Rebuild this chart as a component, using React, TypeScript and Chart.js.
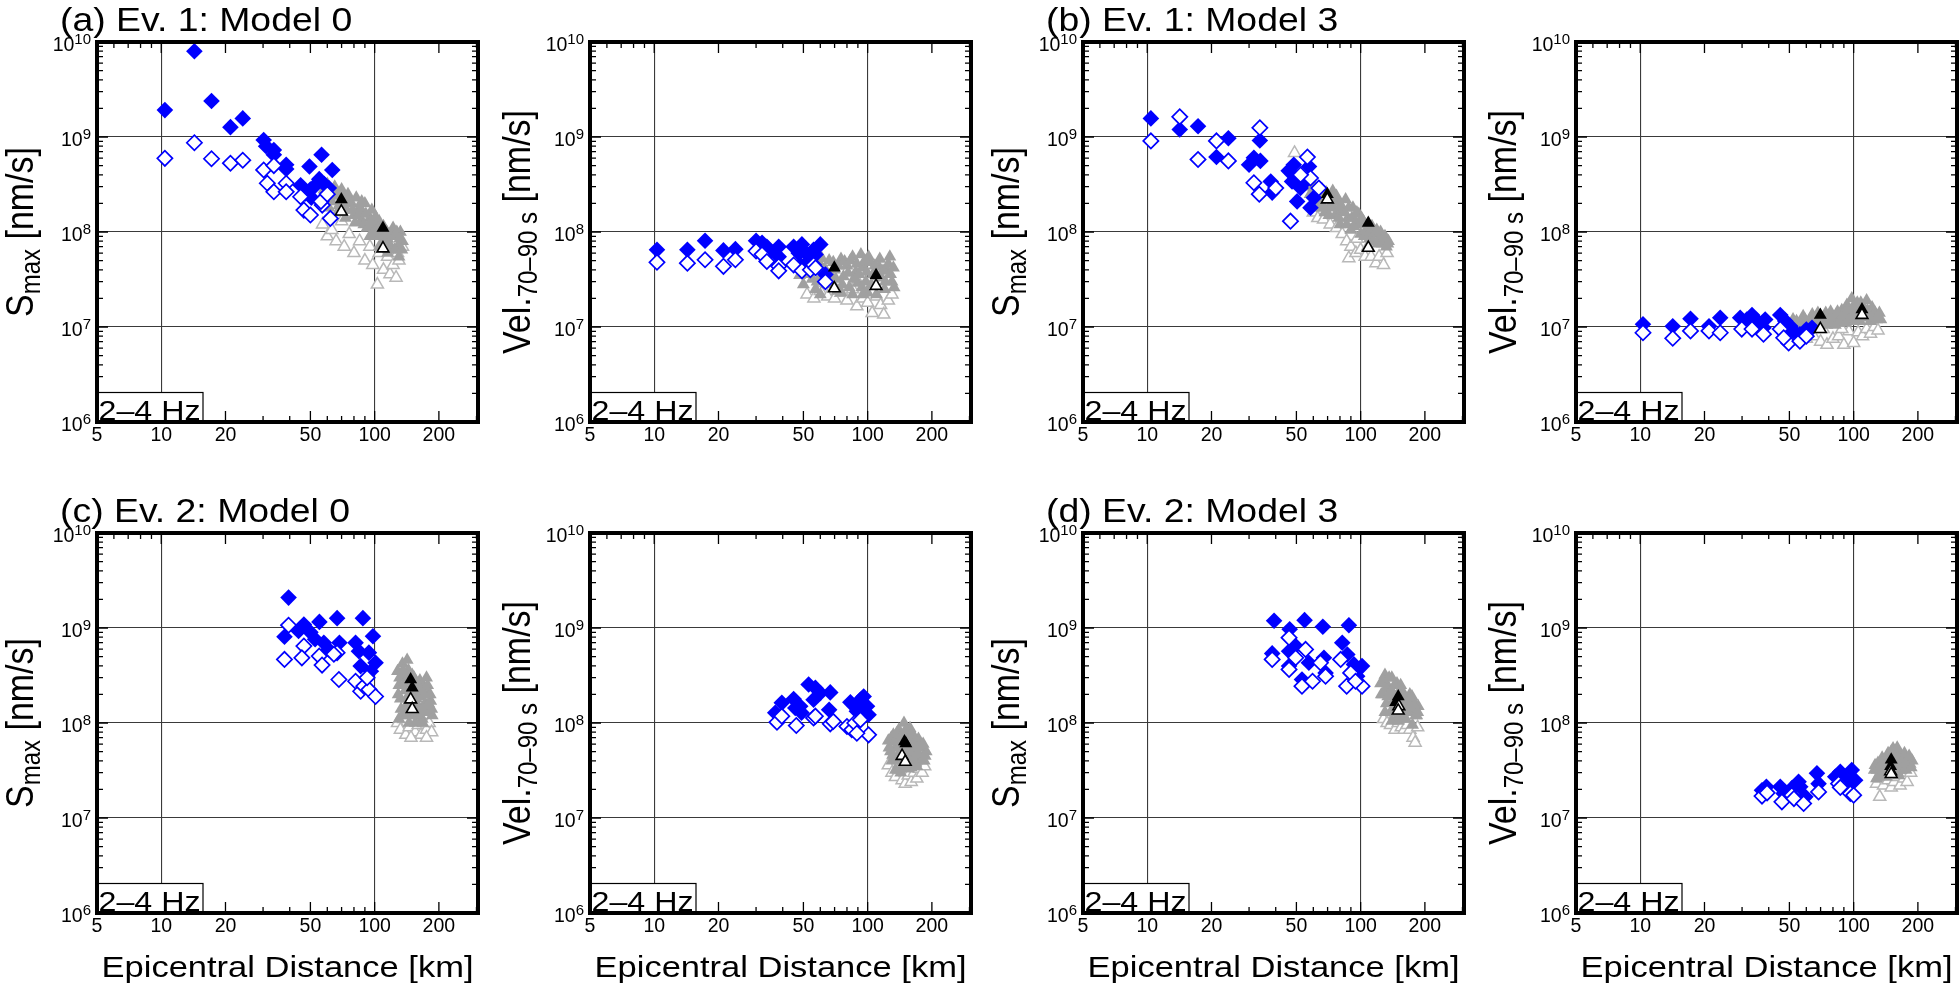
import React, { useEffect, useRef } from "react";
import { Chart, registerables } from "chart.js";

Chart.register(...registerables);

type P = [number, number];

// ---------- axes / labels ----------
const X_MIN = 5;
const X_MAX = 305;
const Y_MIN = 1e6;
const Y_MAX = 1e10;
const X_TICK_LABELS = [5, 10, 20, 50, 100, 200];
const X_MINOR_TICKS = [6, 7, 8, 9, 30, 40, 60, 70, 80, 90, 300];
const X_GRID = [10, 100];
const Y_EXPONENTS = [6, 7, 8, 9, 10];
const Y_GRID_EXPONENTS = [7, 8, 9];
const PANEL_TITLES = ["(a) Ev. 1: Model 0", "(b) Ev. 1: Model 3", "(c) Ev. 2: Model 0", "(d) Ev. 2: Model 3"];
const BAND_LABEL = "2–4 Hz";
const X_TITLE = "Epicentral Distance [km]";
const SMAX_TITLE = ["S", "max", " [nm/s]"];
const VEL_TITLE = ["Vel.", "70–90 s", " [nm/s]"];

// ---------- Ev.1 Model 0 : Smax ----------
const E1M0_SMAX_BLUE_FILLED: P[] = [[14.3,8.0e9],[10.4,1.92e9],[17.2,2.39e9],[21.1,1.27e9],[24.1,1.57e9],[30.2,9.3e8],[31,8.0e8],[33.7,7.3e8],[33.7,6.5e8],[38.5,5.1e8],[38.5,4.6e8],[49.5,4.9e8],[56.4,6.5e8],[63.3,4.5e8],[45,3.1e8],[47.4,2.55e8],[50,2.8e8],[52,3.0e8],[55,3.6e8],[58,3.2e8],[61,2.9e8],[50.5,2.3e8]];
const E1M0_SMAX_BLUE_OPEN: P[] = [[10.4,5.96e8],[14.3,8.7e8],[17.2,5.9e8],[21.1,5.3e8],[24.1,5.7e8],[30.2,4.5e8],[31.4,3.26e8],[33.7,2.65e8],[33.7,5.0e8],[38.5,3.26e8],[38.5,2.65e8],[45,2.35e8],[46.6,1.7e8],[50,1.51e8],[56.8,1.92e8],[56,2.1e8],[60,2.5e8],[62,1.39e8]];
const E1M0_SMAX_GRAY_FILLED: P[] = [[55,3.3e8],[58,2.8e8],[60,3.2e8],[62,2.6e8],[63,2.1e8],[65,3.0e8],[66,2.4e8],[68,1.9e8],[70,2.8e8],[72,2.2e8],[74,1.7e8],[75,2.5e8],[78,2.0e8],[80,1.5e8],[82,2.3e8],[85,1.8e8],[86,1.3e8],[88,1.6e8],[90,2.0e8],[92,1.1e8],[95,1.4e8],[97,1.7e8],[100,1.2e8],[102,9e7],[105,1.3e8],[108,7.5e7],[112,1.05e8],[115,8.5e7],[118,6.5e7],[122,1.1e8],[125,9e7],[128,7e7],[132,1.0e8],[135,8e7],[130,5.5e7],[110,1.15e8],[95,9e7],
  [57,2.3e8],[61,1.8e8],[64,2.7e8],[67,1.6e8],[69,2.5e8],[71,1.8e8],[73,1.4e8],[76,2.1e8],[79,1.7e8],[81,1.25e8],[84,1.5e8],[87,2.1e8],[89,1.2e8],[91,1.55e8],[94,1.15e8],[96,1.3e8],[99,1.0e8],[101,1.45e8],[104,1.1e8],[107,9.5e7],[111,8e7],[114,1.0e8],[117,7.5e7],[120,9.5e7],[124,6.5e7],[127,1.0e8],[131,8.5e7],[134,6.5e7],[105,7e7],[115,6e7]];
const E1M0_SMAX_GRAY_OPEN: P[] = [[57,1.2e8],[60,9e7],[63,1.05e8],[66,8e7],[70,1.3e8],[72,7e7],[76,9.5e7],[80,6e7],[85,8e7],[90,5e7],[95,7e7],[98,4.5e7],[103,2.8e7],[105,6e7],[110,4e7],[115,5.5e7],[118,3.6e7],[122,4.5e7],[126,3.3e7],[130,5e7],[135,7e7],[128,6e7]];
const E1M0_SMAX_BLACK_FILLED: P[] = [[69.8,2.2e8],[109.4,1.1e8]];
const E1M0_SMAX_BLACK_OPEN: P[] = [[69.8,1.64e8],[109.4,6.7e7]];

// ---------- Ev.1 Model 0 : Vel ----------
const E1M0_VEL_BLUE_FILLED: P[] = [[10.3,6.5e7],[14.3,6.5e7],[17.3,8.1e7],[21.1,6.4e7],[24,6.6e7],[30,8.1e7],[32,7.7e7],[33.7,7.0e7],[35,6.3e7],[38.3,7.0e7],[38.3,5.5e7],[45,7.0e7],[47.5,6.0e7],[49.2,7.4e7],[52,5.8e7],[53.9,5.1e7],[55.8,6.5e7],[60,7.4e7],[57,5.8e7],[63.4,3.56e7],[48.5,4.5e7]];
const E1M0_VEL_BLUE_OPEN: P[] = [[10.3,4.8e7],[14.3,4.7e7],[17.3,5.1e7],[21.1,4.35e7],[24,5.1e7],[30,6.3e7],[32,5.8e7],[33.7,4.9e7],[38.3,4.35e7],[38.3,3.9e7],[45,4.5e7],[49.2,3.9e7],[53.9,4.0e7],[55.8,4.5e7],[63.4,3.0e7],[57,4.2e7]];
const E1M0_VEL_GRAY_FILLED: P[] = [[48,3.5e7],[50,2.8e7],[52,4.2e7],[55,3.2e7],[57,2.5e7],[60,4.5e7],[62,3.5e7],[64,2.8e7],[66,5.0e7],[68,3.0e7],[70,4.0e7],[72,2.4e7],[75,5.2e7],[77,3.4e7],[80,4.4e7],[82,2.6e7],[85,5.5e7],[88,3.8e7],[90,2.9e7],[93,5.8e7],[95,4.2e7],[98,3.0e7],[100,2.3e7],[103,4.8e7],[106,3.6e7],[110,2.7e7],[113,4.3e7],[116,3.3e7],[120,2.5e7],[123,3.9e7],[127,5.5e7],[130,3.0e7],[133,2.6e7],[60,2.2e7],[85,2.2e7],
  [50,4.5e7],[53,3.6e7],[56,4.8e7],[58,3.0e7],[61,5.3e7],[63,4.1e7],[67,3.6e7],[69,4.8e7],[71,3.2e7],[73,4.4e7],[76,2.8e7],[78,4.9e7],[81,3.7e7],[83,5.0e7],[86,3.2e7],[89,4.6e7],[91,3.6e7],[94,2.6e7],[97,5.0e7],[99,3.8e7],[101,5.5e7],[104,2.8e7],[108,4.4e7],[111,3.4e7],[114,5.2e7],[118,3.9e7],[121,3.0e7],[125,4.6e7],[128,3.6e7],[132,4.2e7],[110,2.2e7],[75,2.3e7],[95,2.2e7]];
const E1M0_VEL_GRAY_OPEN: P[] = [[52,2.2e7],[56,2.0e7],[60,2.4e7],[65,2.1e7],[70,2.0e7],[75,2.3e7],[80,1.9e7],[85,2.5e7],[89,1.65e7],[95,2.0e7],[100,1.8e7],[105,1.4e7],[110,2.1e7],[115,1.7e7],[119,1.35e7],[125,1.9e7],[130,2.2e7],[62,2.9e7],[90,3.0e7]];
const E1M0_VEL_BLACK_FILLED: P[] = [[69.8,4.2e7],[109.5,3.5e7]];
const E1M0_VEL_BLACK_OPEN: P[] = [[69.8,2.55e7],[109.5,2.7e7]];

// ---------- Ev.1 Model 3 : Smax ----------
const E1M3_SMAX_BLUE_FILLED: P[] = [[10.4,1.57e9],[14.2,1.2e9],[17.3,1.3e9],[21.1,6.15e8],[24,9.7e8],[33.7,9.2e8],[30,5.1e8],[31.6,6.05e8],[33.9,5.6e8],[37.9,3.4e8],[38.5,2.6e8],[46,4.4e8],[48.6,5.1e8],[47.7,3.4e8],[50.4,2.1e8],[52.3,2.9e8],[57.3,4.9e8],[60.4,2.3e8],[58.2,1.8e8],[55,3.4e8]];
const E1M3_SMAX_BLUE_OPEN: P[] = [[10.4,9.1e8],[14.2,1.63e9],[17.3,5.8e8],[21.1,9.1e8],[24,5.6e8],[33.7,1.25e9],[31.6,3.3e8],[33.5,2.5e8],[46.9,1.3e8],[56.3,6.15e8],[58.2,3.7e8],[52.3,4.0e8],[63.7,2.9e8],[40,2.9e8]];
const E1M3_SMAX_GRAY_FILLED: P[] = [[52,3.8e8],[55,3.3e8],[57,3.0e8],[60,2.6e8],[62,2.2e8],[64,1.8e8],[66,2.8e8],[68,1.6e8],[70,2.3e8],[72,1.9e8],[74,2.7e8],[76,1.5e8],[78,2.1e8],[80,1.2e8],[82,1.7e8],[85,2.2e8],[87,1.4e8],[90,1.05e8],[92,1.8e8],[95,1.25e8],[98,1.55e8],[100,9.5e7],[103,1.3e8],[106,1.05e8],[110,8.5e7],[113,1.15e8],[117,9.5e7],[120,7.5e7],[124,1.0e8],[128,8.5e7],[132,7e7],[135,8e7],
  [58,2.5e8],[61,3.0e8],[63,2.5e8],[65,2.1e8],[67,1.8e8],[69,2.6e8],[71,1.5e8],[73,2.2e8],[75,1.8e8],[77,2.4e8],[79,1.4e8],[81,1.9e8],[84,1.6e8],[86,1.2e8],[88,1.8e8],[91,1.4e8],[93,1.15e8],[96,1.6e8],[99,1.2e8],[101,1.4e8],[104,9e7],[108,1.2e8],[111,1.0e8],[115,8e7],[119,1.05e8],[122,8.5e7],[126,7.5e7],[130,9e7],[134,7.5e7]];
const E1M3_SMAX_GRAY_OPEN: P[] = [[49,6.8e8],[60,1.6e8],[63,1.4e8],[67,1.35e8],[72,1.2e8],[77,1.1e8],[82,9.5e7],[86,8e7],[88,5.3e7],[90,7e7],[95,6e7],[100,6.5e7],[105,5.5e7],[112,5.5e7],[118,4.7e7],[122,5.5e7],[128,4.5e7],[133,6e7],[108,7e7],[96,8.5e7]];
const E1M3_SMAX_BLACK_FILLED: P[] = [[69.8,2.5e8],[108.6,1.24e8]];
const E1M3_SMAX_BLACK_OPEN: P[] = [[69.8,2.2e8],[108.6,6.8e7]];

// ---------- Ev.1 Model 3 : Vel ----------
const E1M3_VEL_BLUE_FILLED: P[] = [[10.3,1.07e7],[14.2,1.02e7],[17.2,1.22e7],[21,1.02e7],[23.7,1.25e7],[29.4,1.25e7],[31.6,1.2e7],[33.4,1.34e7],[35.3,1.16e7],[38.5,1.2e7],[37.8,0.98e7],[45.3,1.34e7],[47.8,1.16e7],[50.5,1.02e7],[52.3,0.91e7],[56,0.84e7],[60,0.94e7],[63.8,0.98e7],[49.6,0.91e7]];
const E1M3_VEL_BLUE_OPEN: P[] = [[10.3,0.87e7],[14.2,0.76e7],[17.2,0.91e7],[21,0.91e7],[23.7,0.87e7],[29.9,0.95e7],[33.4,0.95e7],[37.8,0.84e7],[45.3,0.95e7],[49.6,0.68e7],[56,0.71e7],[60,0.8e7],[47,0.77e7]];
const E1M3_VEL_GRAY_FILLED: P[] = [[52,1.2e7],[55,1.05e7],[58,1.3e7],[60,1.1e7],[63,1.25e7],[65,1.0e7],[68,1.4e7],[70,1.15e7],[73,1.3e7],[75,1.05e7],[78,1.45e7],[80,1.2e7],[83,1.35e7],[85,1.1e7],[88,1.5e7],[90,1.25e7],[93,1.7e7],[95,1.4e7],[98,2.0e7],[100,1.15e7],[103,1.6e7],[106,1.3e7],[108,1.8e7],[112,1.45e7],[115,1.9e7],[118,1.25e7],[122,1.6e7],[126,1.4e7],[130,1.3e7],[134,1.2e7],
  [54,1.15e7],[57,1.0e7],[59,1.2e7],[62,1.05e7],[64,1.35e7],[67,1.15e7],[69,1.05e7],[72,1.25e7],[74,1.4e7],[77,1.15e7],[79,1.3e7],[82,1.05e7],[84,1.45e7],[87,1.2e7],[89,1.35e7],[92,1.1e7],[94,1.55e7],[97,1.25e7],[99,1.6e7],[101,1.35e7],[104,1.8e7],[107,1.15e7],[110,1.6e7],[113,1.3e7],[116,1.5e7],[120,1.15e7],[124,1.35e7],[128,1.2e7],[132,1.4e7]];
const E1M3_VEL_GRAY_OPEN: P[] = [[55,0.85e7],[60,0.75e7],[65,0.8e7],[70,0.7e7],[75,0.65e7],[80,0.75e7],[85,0.8e7],[90,0.65e7],[95,0.9e7],[100,0.68e7],[105,0.88e7],[110,0.8e7],[115,0.95e7],[120,0.85e7],[125,1.0e7],[130,0.92e7],[88,0.95e7],[72,0.95e7]];
const E1M3_VEL_BLACK_FILLED: P[] = [[69.8,1.34e7],[109.4,1.53e7]];
const E1M3_VEL_BLACK_OPEN: P[] = [[69.8,0.95e7],[109.4,1.34e7]];

// ---------- Ev.2 Model 0 : Smax ----------
const E2M0_SMAX_BLUE_FILLED: P[] = [[39.5,2.09e9],[37.8,8.1e8],[46.6,1.09e9],[50,9.0e8],[55.1,1.16e9],[52.6,7.6e8],[57.8,7.0e8],[66.7,1.27e9],[68.4,7.0e8],[88.1,1.27e9],[81.4,7.0e8],[84.4,5.7e8],[94,5.5e8],[98.2,8.2e8],[86,3.97e8],[101,4.3e8],[96,3.5e8],[44,9.3e8],[60.8,5.95e8]];
const E2M0_SMAX_BLUE_OPEN: P[] = [[39.5,1.07e9],[37.8,4.67e8],[46.6,6.45e8],[45.6,4.85e8],[55,5.06e8],[56.7,4.07e8],[68,2.87e8],[66.7,5.5e8],[81.4,2.75e8],[86,2.16e8],[89,2.44e8],[94,2.25e8],[101,1.9e8],[92.2,3.0e8],[64.4,5.3e8]];
const E2M0_SMAX_GRAY_FILLED: P[] = [[128,3.5e8],[130,2.5e8],[132,1.8e8],[135,4.2e8],[137,3.0e8],[139,2.2e8],[140,1.5e8],[142,4.6e8],[144,3.6e8],[146,2.0e8],[148,1.3e8],[150,3.2e8],[152,2.6e8],[154,1.7e8],[156,1.2e8],[158,2.2e8],[160,1.5e8],[163,2.8e8],[165,1.9e8],[167,1.1e8],[170,2.4e8],[172,1.6e8],[175,3.0e8],[178,2.0e8],[180,1.35e8],[183,1.7e8],[186,1.2e8],[135,1.2e8],[145,1.0e8],
  [129,2.0e8],[131,3.0e8],[133,1.4e8],[136,3.6e8],[138,2.6e8],[141,1.8e8],[143,3.0e8],[147,1.6e8],[149,2.2e8],[151,1.4e8],[153,3.0e8],[157,1.8e8],[159,2.5e8],[162,1.3e8],[164,2.3e8],[168,1.4e8],[171,2.0e8],[174,1.3e8],[177,2.5e8],[179,1.6e8],[182,2.0e8],[185,1.4e8],[141,1.2e8],[155,1.0e8],[168,1.0e8],[130,1.1e8]];
const E2M0_SMAX_GRAY_OPEN: P[] = [[128,1.0e8],[132,8.5e7],[137,1.1e8],[140,7.5e7],[145,9e7],[150,1.05e8],[155,8e7],[160,9.5e7],[165,7.5e7],[170,1.0e8],[175,8.5e7],[180,1.0e8],[185,8e7],[148,7e7],[175,7e7]];
const E2M0_SMAX_BLACK_FILLED: P[] = [[147.5,2.87e8],[150,2.35e8]];
const E2M0_SMAX_BLACK_OPEN: P[] = [[147.5,1.77e8],[150,1.4e8]];

// ---------- Ev.2 Model 0 : Vel ----------
const E2M0_VEL_BLUE_FILLED: P[] = [[36.9,1.28e8],[39.6,1.63e8],[45,1.79e8],[45.8,1.44e8],[49,1.28e8],[52.9,2.54e8],[56.9,2.34e8],[60,2.07e8],[55.8,1.76e8],[66.8,2.1e8],[66,1.38e8],[83,1.65e8],[92.5,1.76e8],[95.8,1.9e8],[99.3,1.5e8],[101,1.22e8],[89,1.33e8],[48.3,1.5e8]];
const E2M0_VEL_BLUE_OPEN: P[] = [[37.6,1.02e8],[39.6,1.18e8],[46.3,0.94e8],[55.8,1.13e8],[56.9,1.18e8],[66.8,0.98e8],[69,1.04e8],[80,0.92e8],[84.3,0.85e8],[87,1.0e8],[92.5,1.08e8],[101,0.75e8],[89,0.78e8]];
const E2M0_VEL_GRAY_FILLED: P[] = [[125,6.5e7],[128,5e7],[130,4e7],[132,7.5e7],[135,5.5e7],[138,4.5e7],[140,8.5e7],[142,6.5e7],[145,3.5e7],[148,1.0e8],[150,7.5e7],[152,5.2e7],[155,4.2e7],[158,8.8e7],[160,6.0e7],[163,4.8e7],[165,7.2e7],[168,3.8e7],[170,5.8e7],[173,6.8e7],[176,4.5e7],[180,5.5e7],[184,4.0e7],[188,5.0e7],[135,3.2e7],[160,3.4e7],
  [126,5.5e7],[129,7e7],[131,4.6e7],[134,6.3e7],[137,7.8e7],[139,5.5e7],[141,4.0e7],[144,7.2e7],[146,5.5e7],[149,4.5e7],[151,8.5e7],[153,6.5e7],[156,5.0e7],[159,7.5e7],[162,5.5e7],[164,4.2e7],[167,6.5e7],[171,4.8e7],[174,5.8e7],[178,4.0e7],[182,6.0e7],[186,4.5e7],[143,3.0e7],[155,3.3e7],[170,3.5e7]];
const E2M0_VEL_GRAY_OPEN: P[] = [[125,3.6e7],[130,3e7],[135,2.7e7],[140,3.2e7],[145,2.5e7],[150,2.3e7],[155,2.8e7],[160,2.4e7],[165,3.0e7],[170,2.6e7],[175,3.3e7],[180,3e7],[185,3.5e7]];
const E2M0_VEL_BLACK_FILLED: P[] = [[148.8,6.4e7],[151,6.1e7]];
const E2M0_VEL_BLACK_OPEN: P[] = [[145,4.5e7],[150,3.9e7]];

// ---------- Ev.2 Model 3 : Smax ----------
const E2M3_SMAX_BLUE_FILLED: P[] = [[39.3,1.19e9],[46.5,9.7e8],[54.6,1.21e9],[66.5,1.03e9],[88.1,1.07e9],[82,7.0e8],[38.5,5.4e8],[46.2,5.7e8],[49.6,6.45e8],[46.2,3.97e8],[53.1,2.87e8],[57.2,4.3e8],[67.3,4.86e8],[68.5,3.37e8],[86.6,5.27e8],[93,4.14e8],[101.5,3.97e8],[96.3,3.1e8]];
const E2M3_SMAX_BLUE_OPEN: P[] = [[38.5,4.67e8],[46.2,7.9e8],[49.6,4.86e8],[46.2,3.66e8],[55.2,5.95e8],[53.1,2.44e8],[59.5,2.75e8],[68.5,3.1e8],[64.8,4.3e8],[80.6,4.67e8],[86,2.44e8],[89.8,3.37e8],[101.5,2.44e8],[94.6,2.75e8]];
const E2M3_SMAX_GRAY_FILLED: P[] = [[124,2.6e8],[127,2.0e8],[130,3.2e8],[132,1.6e8],[135,2.4e8],[138,1.3e8],[140,3.0e8],[143,2.0e8],[145,1.5e8],[148,2.6e8],[150,1.2e8],[153,2.2e8],[155,1.7e8],[158,1.4e8],[160,2.0e8],[163,1.1e8],[166,1.6e8],[170,2.0e8],[173,1.3e8],[176,1.7e8],[180,1.4e8],[183,1.2e8],[186,1.5e8],[175,9.5e7],[140,1.05e8],
  [125,2.0e8],[128,2.8e8],[131,2.3e8],[134,1.9e8],[136,3.0e8],[139,2.2e8],[142,1.7e8],[144,2.5e8],[147,1.9e8],[149,1.4e8],[152,1.8e8],[154,2.5e8],[157,2.0e8],[159,1.6e8],[162,1.8e8],[165,1.35e8],[168,1.7e8],[171,1.5e8],[174,1.9e8],[178,1.5e8],[181,1.2e8],[185,1.3e8],[160,1.1e8],[150,1.05e8],[130,1.3e8]];
const E2M3_SMAX_GRAY_OPEN: P[] = [[128,1.1e8],[133,1.0e8],[138,9.5e7],[145,8.5e7],[150,1.0e8],[155,9e7],[160,8.5e7],[165,9.5e7],[170,8.5e7],[176,7e7],[180,6.2e7],[185,9e7],[145,1.25e8]];
const E2M3_SMAX_BLACK_FILLED: P[] = [[150,1.9e8],[146,1.65e8]];
const E2M3_SMAX_BLACK_OPEN: P[] = [[151,1.5e8],[150,1.35e8]];

// ---------- Ev.2 Model 3 : Vel ----------
const E2M3_VEL_BLUE_FILLED: P[] = [[39,2.13e7],[37.2,1.96e7],[45.3,2.13e7],[47,1.81e7],[51.3,2.05e7],[55.2,2.41e7],[56.2,2.13e7],[59.4,1.67e7],[67.3,2.95e7],[68.5,2.3e7],[82,2.72e7],[86.6,3.07e7],[98,3.2e7],[101.6,2.5e7],[96.5,2.3e7],[91,2.6e7]];
const E2M3_VEL_BLUE_OPEN: P[] = [[37.2,1.7e7],[39.3,1.84e7],[46.1,1.48e7],[51.3,1.74e7],[52.5,1.6e7],[58.3,1.42e7],[68.5,1.88e7],[85,2.3e7],[96.5,1.81e7],[100,1.74e7],[86.6,2.1e7]];
const E2M3_VEL_GRAY_FILLED: P[] = [[125,3.2e7],[128,2.6e7],[130,3.8e7],[133,3.0e7],[136,4.3e7],[139,3.4e7],[142,2.7e7],[145,4.8e7],[148,3.8e7],[150,3.0e7],[153,5.4e7],[155,4.2e7],[158,3.3e7],[160,5.0e7],[163,2.8e7],[166,4.5e7],[170,3.6e7],[173,4.8e7],[176,3.2e7],[180,4.2e7],[184,3.7e7],[188,4.0e7],
  [126,3.6e7],[129,3.2e7],[131,2.8e7],[134,3.6e7],[137,3.0e7],[140,4.0e7],[143,3.3e7],[146,4.2e7],[147,3.0e7],[151,4.5e7],[154,3.6e7],[156,4.8e7],[159,4.0e7],[161,3.0e7],[164,3.8e7],[167,3.2e7],[171,4.2e7],[174,3.8e7],[178,3.5e7],[182,4.5e7],[186,3.4e7],[160,5.5e7],[150,5.0e7]];
const E2M3_VEL_GRAY_OPEN: P[] = [[128,2.3e7],[133,2.6e7],[132.5,1.67e7],[138,2.2e7],[145,2.5e7],[150,2.1e7],[155,2.4e7],[160,2.7e7],[165,2.2e7],[172,2.6e7],[178,2.4e7],[185,3e7]];
const E2M3_VEL_BLACK_FILLED: P[] = [[150,4.1e7],[149,3.5e7]];
const E2M3_VEL_BLACK_OPEN: P[] = [[149,3.1e7],[150,2.9e7]];

// ---------- layout ----------
const COL_LEFTS = [97, 590, 1083, 1576];
const ROW_TOPS = [42, 533];
const PLOT_W = 381;
const PLOT_H = 380;
const PAD_L = 97;
const PAD_T = 42;
const CANVAS_W = 492;
const CANVAS_H = 502;
const FONT = '"Liberation Sans", Arial, Helvetica, sans-serif';
const STRETCH = 1.15;

type Panel = {
  col: number; row: number; title?: string; kind: "smax" | "vel"; xTitle: boolean;
  blueFilled: P[]; blueOpen: P[]; grayFilled: P[]; grayOpen: P[]; blackFilled: P[]; blackOpen: P[];
};

const PANELS: Panel[] = [
  { col: 0, row: 0, title: PANEL_TITLES[0], kind: "smax", xTitle: false, blueFilled: E1M0_SMAX_BLUE_FILLED, blueOpen: E1M0_SMAX_BLUE_OPEN, grayFilled: E1M0_SMAX_GRAY_FILLED, grayOpen: E1M0_SMAX_GRAY_OPEN, blackFilled: E1M0_SMAX_BLACK_FILLED, blackOpen: E1M0_SMAX_BLACK_OPEN },
  { col: 1, row: 0, kind: "vel", xTitle: false, blueFilled: E1M0_VEL_BLUE_FILLED, blueOpen: E1M0_VEL_BLUE_OPEN, grayFilled: E1M0_VEL_GRAY_FILLED, grayOpen: E1M0_VEL_GRAY_OPEN, blackFilled: E1M0_VEL_BLACK_FILLED, blackOpen: E1M0_VEL_BLACK_OPEN },
  { col: 2, row: 0, title: PANEL_TITLES[1], kind: "smax", xTitle: false, blueFilled: E1M3_SMAX_BLUE_FILLED, blueOpen: E1M3_SMAX_BLUE_OPEN, grayFilled: E1M3_SMAX_GRAY_FILLED, grayOpen: E1M3_SMAX_GRAY_OPEN, blackFilled: E1M3_SMAX_BLACK_FILLED, blackOpen: E1M3_SMAX_BLACK_OPEN },
  { col: 3, row: 0, kind: "vel", xTitle: false, blueFilled: E1M3_VEL_BLUE_FILLED, blueOpen: E1M3_VEL_BLUE_OPEN, grayFilled: E1M3_VEL_GRAY_FILLED, grayOpen: E1M3_VEL_GRAY_OPEN, blackFilled: E1M3_VEL_BLACK_FILLED, blackOpen: E1M3_VEL_BLACK_OPEN },
  { col: 0, row: 1, title: PANEL_TITLES[2], kind: "smax", xTitle: true, blueFilled: E2M0_SMAX_BLUE_FILLED, blueOpen: E2M0_SMAX_BLUE_OPEN, grayFilled: E2M0_SMAX_GRAY_FILLED, grayOpen: E2M0_SMAX_GRAY_OPEN, blackFilled: E2M0_SMAX_BLACK_FILLED, blackOpen: E2M0_SMAX_BLACK_OPEN },
  { col: 1, row: 1, kind: "vel", xTitle: true, blueFilled: E2M0_VEL_BLUE_FILLED, blueOpen: E2M0_VEL_BLUE_OPEN, grayFilled: E2M0_VEL_GRAY_FILLED, grayOpen: E2M0_VEL_GRAY_OPEN, blackFilled: E2M0_VEL_BLACK_FILLED, blackOpen: E2M0_VEL_BLACK_OPEN },
  { col: 2, row: 1, title: PANEL_TITLES[3], kind: "smax", xTitle: true, blueFilled: E2M3_SMAX_BLUE_FILLED, blueOpen: E2M3_SMAX_BLUE_OPEN, grayFilled: E2M3_SMAX_GRAY_FILLED, grayOpen: E2M3_SMAX_GRAY_OPEN, blackFilled: E2M3_SMAX_BLACK_FILLED, blackOpen: E2M3_SMAX_BLACK_OPEN },
  { col: 3, row: 1, kind: "vel", xTitle: true, blueFilled: E2M3_VEL_BLUE_FILLED, blueOpen: E2M3_VEL_BLUE_OPEN, grayFilled: E2M3_VEL_GRAY_FILLED, grayOpen: E2M3_VEL_GRAY_OPEN, blackFilled: E2M3_VEL_BLACK_FILLED, blackOpen: E2M3_VEL_BLACK_OPEN },
];

const toXY = (arr: P[]) => arr.map(([x, y]) => ({ x, y }));

function makeFramePlugin(panel: Panel, idx: number) {
  return {
    id: "frame" + idx,
    afterDraw(chart: any) {
      const { ctx, chartArea: a, scales } = chart;
      const xs = scales.x;
      const ys = scales.y;
      ctx.save();
      // inner ticks
      ctx.strokeStyle = "#000";
      ctx.lineWidth = 1.3;
      const vTick = (px: number, len: number) => {
        ctx.beginPath();
        ctx.moveTo(px, a.bottom); ctx.lineTo(px, a.bottom - len);
        ctx.moveTo(px, a.top); ctx.lineTo(px, a.top + len);
        ctx.stroke();
      };
      const hTick = (py: number, len: number) => {
        ctx.beginPath();
        ctx.moveTo(a.left, py); ctx.lineTo(a.left + len, py);
        ctx.moveTo(a.right, py); ctx.lineTo(a.right - len, py);
        ctx.stroke();
      };
      X_MINOR_TICKS.forEach((v) => { const px = xs.getPixelForValue(v); if (px < a.right - 1) vTick(px, 6); });
      X_TICK_LABELS.forEach((v) => { if (v > X_MIN) vTick(xs.getPixelForValue(v), 11); });
      Y_EXPONENTS.forEach((e) => {
        if (e < 10) {
          for (let m = 2; m <= 9; m++) hTick(ys.getPixelForValue(m * Math.pow(10, e)), 6);
          if (e > 6) hTick(ys.getPixelForValue(Math.pow(10, e)), 11);
        }
      });
      // band label box
      ctx.font = `28px ${FONT}`;
      const bw = 106, bh = 29.5;
      ctx.fillStyle = "#fff";
      ctx.fillRect(a.left, a.bottom - bh, bw, bh);
      ctx.lineWidth = 1.2;
      ctx.strokeRect(a.left, a.bottom - bh, bw, bh);
      ctx.fillStyle = "#000";
      ctx.save();
      ctx.translate(a.left + 1.5, a.bottom - 2.5);
      ctx.scale(STRETCH, 1);
      ctx.textAlign = "left";
      ctx.textBaseline = "alphabetic";
      ctx.fillText(BAND_LABEL, 0, 0);
      ctx.restore();
      // frame
      ctx.lineWidth = 4;
      ctx.strokeStyle = "#000";
      ctx.strokeRect(a.left, a.top, a.right - a.left, a.bottom - a.top);
      // x tick labels
      ctx.fillStyle = "#000";
      ctx.font = `19.5px ${FONT}`;
      ctx.textAlign = "center";
      ctx.textBaseline = "alphabetic";
      X_TICK_LABELS.forEach((v) => {
        ctx.fillText(String(v), xs.getPixelForValue(v), a.bottom + 19);
      });
      // y tick labels 10^n
      Y_EXPONENTS.forEach((e) => {
        const py = ys.getPixelForValue(Math.pow(10, e));
        ctx.font = `15px ${FONT}`;
        const ws = ctx.measureText(String(e)).width;
        ctx.font = `19.5px ${FONT}`;
        const wm = ctx.measureText("10").width;
        const right = a.left - 6;
        ctx.textAlign = "left";
        ctx.fillText("10", right - ws - wm, py + 9);
        ctx.font = `15px ${FONT}`;
        ctx.fillText(String(e), right - ws, py + 2);
      });
      // y title (rotated, with subscript)
      const parts = panel.kind === "smax" ? SMAX_TITLE : VEL_TITLE;
      const off = panel.kind === "smax" ? 64 : 60;
      ctx.save();
      ctx.translate(a.left - off, (a.top + a.bottom) / 2);
      ctx.scale(STRETCH, 1);
      ctx.rotate(-Math.PI / 2);
      ctx.textAlign = "left";
      ctx.font = `34px ${FONT}`;
      const w1 = ctx.measureText(parts[0]).width;
      const w3 = ctx.measureText(parts[2]).width;
      ctx.font = `24px ${FONT}`;
      const w2 = ctx.measureText(parts[1]).width;
      const x0 = -(w1 + w2 + w3) / 2;
      ctx.font = `34px ${FONT}`;
      ctx.fillText(parts[0], x0, 0);
      ctx.font = `24px ${FONT}`;
      ctx.fillText(parts[1], x0 + w1, 6);
      ctx.font = `34px ${FONT}`;
      ctx.fillText(parts[2], x0 + w1 + w2, 0);
      ctx.restore();
      // panel title
      if (panel.title) {
        ctx.save();
        ctx.translate(a.left - 37, a.top - 11);
        ctx.scale(STRETCH, 1);
        ctx.font = `32.5px ${FONT}`;
        ctx.textAlign = "left";
        ctx.fillText(panel.title, 0, 0);
        ctx.restore();
      }
      // x title
      if (panel.xTitle) {
        ctx.save();
        ctx.translate((a.left + a.right) / 2, a.bottom + 63.5);
        ctx.scale(STRETCH, 1);
        ctx.font = `30px ${FONT}`;
        ctx.textAlign = "center";
        ctx.fillText(X_TITLE, 0, 0);
        ctx.restore();
      }
      ctx.restore();
    },
  };
}

function PanelChart({ panel, idx }: { panel: Panel; idx: number }) {
  const ref = useRef<HTMLCanvasElement | null>(null);
  useEffect(() => {
    if (!ref.current) return;
    const datasets: any[] = [
      { label: "ref open", data: toXY(panel.blackOpen), pointStyle: "triangle", pointRadius: 6.8, backgroundColor: "#ffffff", borderColor: "#000000", borderWidth: 1.6, order: 0 },
      { label: "ref filled", data: toXY(panel.blackFilled), pointStyle: "triangle", pointRadius: 7.5, backgroundColor: "#000000", borderColor: "#000000", borderWidth: 0, order: 1 },
      { label: "blue open", data: toXY(panel.blueOpen), pointStyle: "rectRot", pointRadius: 7.6, backgroundColor: "#ffffff", borderColor: "#0000ff", borderWidth: 1.7, order: 2 },
      { label: "blue filled", data: toXY(panel.blueFilled), pointStyle: "rectRot", pointRadius: 8.3, backgroundColor: "#0000ff", borderColor: "#0000ff", borderWidth: 0, order: 3 },
      { label: "gray filled", data: toXY(panel.grayFilled), pointStyle: "triangle", pointRadius: 7.5, backgroundColor: "#a0a0a0", borderColor: "#a0a0a0", borderWidth: 0, order: 4 },
      { label: "gray open", data: toXY(panel.grayOpen), pointStyle: "triangle", pointRadius: 7, backgroundColor: "#ffffff", borderColor: "#b8b8b8", borderWidth: 1.5, order: 5 },
    ];
    const chart = new Chart(ref.current, {
      type: "scatter",
      data: { datasets },
      options: {
        responsive: false,
        animation: false,
        devicePixelRatio: 1,
        events: [],
        layout: { padding: { left: PAD_L, top: PAD_T, right: CANVAS_W - PAD_L - PLOT_W, bottom: CANVAS_H - PAD_T - PLOT_H } },
        plugins: { legend: { display: false }, tooltip: { enabled: false } },
        scales: {
          x: {
            type: "logarithmic", position: "bottom", min: X_MIN, max: X_MAX,
            afterBuildTicks: (s: any) => { s.ticks = X_GRID.map((v) => ({ value: v })); },
            afterFit: (s: any) => { s.height = 0; },
            ticks: { display: false },
            grid: { color: "#3a3a3a", lineWidth: 1.1, drawTicks: false },
            border: { display: false },
          },
          y: {
            type: "logarithmic", position: "left", min: Y_MIN, max: Y_MAX,
            afterBuildTicks: (s: any) => { s.ticks = Y_GRID_EXPONENTS.map((e) => ({ value: Math.pow(10, e) })); },
            afterFit: (s: any) => { s.width = 0; },
            ticks: { display: false },
            grid: { color: "#3a3a3a", lineWidth: 1.1, drawTicks: false },
            border: { display: false },
          },
        },
      } as any,
      plugins: [makeFramePlugin(panel, idx)],
    });
    return () => chart.destroy();
  }, [panel, idx]);
  const left = COL_LEFTS[panel.col] - PAD_L;
  const top = ROW_TOPS[panel.row] - PAD_T;
  return (
    <canvas
      ref={ref}
      width={CANVAS_W}
      height={CANVAS_H}
      style={{ position: "absolute", left, top, width: CANVAS_W, height: CANVAS_H }}
    />
  );
}

export default function App() {
  return (
    <div style={{ position: "absolute", left: 0, top: 0, width: 1960, height: 990, overflow: "hidden", background: "#fff" }}>
      {PANELS.map((p, i) => (
        <PanelChart key={i} panel={p} idx={i} />
      ))}
    </div>
  );
}
